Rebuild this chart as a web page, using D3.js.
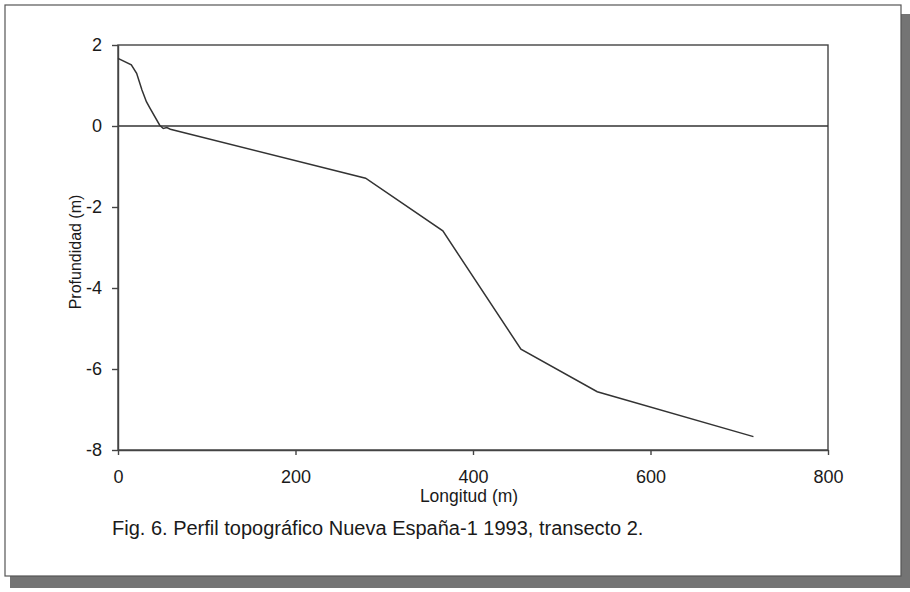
<!DOCTYPE html>
<html>
<head>
<meta charset="utf-8">
<script src="https://cdn.jsdelivr.net/npm/d3@7"></script>
<style>
  body { margin: 0; background: #fff; }
  text { font-family: "Liberation Sans", Arial, sans-serif; fill: #1a1a1a; }
</style>
</head>
<body>
<div id="chart"></div>
<script>
// profile data
var longitud = [0, 15, 21, 27, 32, 36, 47, 51, 55, 59, 279, 366, 454, 540, 716];
var profundidad = [1.67, 1.51, 1.30, 0.89, 0.60, 0.44, 0.02, -0.06, -0.04, -0.08, -1.29, -2.59, -5.51, -6.56, -7.67];
var xTicks = [0, 200, 400, 600, 800];
var yTicks = [2, 0, -2, -4, -6, -8];
var xTitle = "Longitud (m)";
var yTitle = "Profundidad (m)";
var caption = "Fig. 6. Perfil topográfico Nueva España-1 1993, transecto 2.";

var width = 910, height = 592;
var plot = { left: 118, right: 828, top: 45, bottom: 450 };

var svg = d3.select("#chart").append("svg")
    .attr("width", width)
    .attr("height", height);

// frame with drop shadow
svg.append("rect")
    .attr("x", 10).attr("y", 14)
    .attr("width", 900).attr("height", 574)
    .attr("fill", "#747474");
svg.append("rect")
    .attr("x", 5).attr("y", 5)
    .attr("width", 896).attr("height", 571)
    .attr("fill", "#fff")
    .attr("stroke", "#555")
    .attr("stroke-width", 1.2);

var x = d3.scaleLinear().domain([0, 800]).range([plot.left, plot.right]);
var y = d3.scaleLinear().domain([-8, 2]).range([plot.bottom, plot.top]);

// plot box
svg.append("rect")
    .attr("x", plot.left).attr("y", plot.top)
    .attr("width", plot.right - plot.left)
    .attr("height", plot.bottom - plot.top)
    .attr("fill", "none")
    .attr("stroke", "#444")
    .attr("stroke-width", 1.4);

// zero line
svg.append("line")
    .attr("x1", x(0)).attr("x2", x(800))
    .attr("y1", y(0)).attr("y2", y(0))
    .attr("stroke", "#333")
    .attr("stroke-width", 1.3);

var xAxis = svg.append("g")
    .attr("transform", "translate(0," + plot.bottom + ")")
    .call(d3.axisBottom(x).tickValues(xTicks).tickSize(5).tickPadding(15).tickSizeOuter(0));
var yAxis = svg.append("g")
    .attr("transform", "translate(" + plot.left + ",0)")
    .call(d3.axisLeft(y).tickValues(yTicks).tickSize(6).tickPadding(10).tickSizeOuter(0)
        .tickFormat(d3.format("d")));

[xAxis, yAxis].forEach(function (g) {
    g.select(".domain").attr("stroke", "#444").attr("stroke-width", 1.4);
    g.selectAll(".tick line").attr("stroke", "#444").attr("stroke-width", 1.4);
    g.selectAll(".tick text")
        .style("font-size", "18px")
        .attr("fill", "#1a1a1a")
        .style("font-family", '"Liberation Sans", Arial, sans-serif');
});
yAxis.selectAll(".tick text").text(function (d) { return d < 0 ? "-" + Math.abs(d) : d; });

// profile line
var pts = longitud.map(function (d, i) { return [d, profundidad[i]]; });
svg.append("path")
    .datum(pts)
    .attr("d", d3.line().x(function (d) { return x(d[0]); }).y(function (d) { return y(d[1]); }))
    .attr("fill", "none")
    .attr("stroke", "#333")
    .attr("stroke-width", 1.5);

// titles
svg.append("text")
    .attr("x", (plot.left + plot.right) / 2 - 4)
    .attr("y", 502)
    .attr("text-anchor", "middle")
    .style("font-size", "17.5px")
    .text(xTitle);

svg.append("text")
    .attr("transform", "translate(81," + 252 + ") rotate(-90)")
    .attr("text-anchor", "middle")
    .style("font-size", "16px")
    .text(yTitle);

svg.append("text")
    .attr("x", 112)
    .attr("y", 535)
    .style("font-size", "20px")
    .text(caption);
</script>
</body>
</html>
